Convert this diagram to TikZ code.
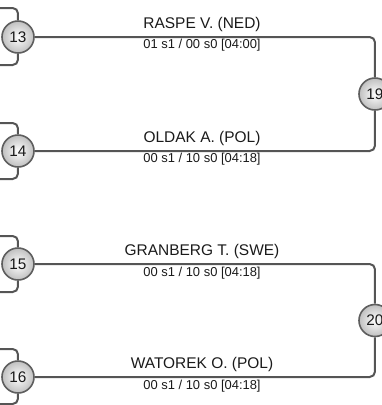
\documentclass[tikz,border=0pt]{standalone}
\usepackage{fontspec}
\setmainfont{Liberation Sans}
\definecolor{linec}{HTML}{555555}
\definecolor{circb}{HTML}{5E5E5E}
\definecolor{txt}{HTML}{1A1A1A}
\begin{document}
\begin{tikzpicture}[x=0.75pt,y=-0.75pt,
  conn/.style={draw=linec,line width=1.5pt,rounded corners=4pt},
  seed/.style={circle,draw=circb,line width=1.2pt,minimum size=24pt,inner sep=0pt,
    shading=radial,inner color=white,outer color=black!25,
    font=\fontsize{11.5pt}{13pt}\selectfont,text=txt},
  pname/.style={anchor=base,font=\fontsize{11.6pt}{13pt}\selectfont,text=txt,inner sep=0pt},
  pscore/.style={anchor=base,font=\fontsize{9.7pt}{11pt}\selectfont,text=txt,inner sep=0pt}]
\useasboundingbox (0,0) rectangle (382,405);
% left brackets free ends
\coordinate (b13t) at (0,8);   \coordinate (b13b) at (0,65);
\coordinate (b14t) at (0,123); \coordinate (b14b) at (0,179);
\coordinate (b15t) at (0,236); \coordinate (b15b) at (0,292);
\coordinate (b16t) at (0,349); \coordinate (b16b) at (0,404);
\path (18,37) node[seed] (c13) {13};
\path (18,151) node[seed] (c14) {14};
\path (18,264) node[seed] (c15) {15};
\path (18,377) node[seed] (c16) {16};
\path (375,94) node[seed] (c19) {19};
\path (375,320.5) node[seed] (c20) {20};
\draw[conn] (c13.north) |- (b13t);
\draw[conn] (c13.south) |- (b13b);
\draw[conn] (c14.north) |- (b14t);
\draw[conn] (c14.south) |- (b14b);
\draw[conn] (c15.north) |- (b15t);
\draw[conn] (c15.south) |- (b15b);
\draw[conn] (c16.north) |- (b16t);
\draw[conn] (c16.south) |- (b16b);
\draw[conn] (c13.east) -| (c19.north);
\draw[conn] (c14.east) -| (c19.south);
\draw[conn] (c15.east) -| (c20.north);
\draw[conn] (c16.east) -| (c20.south);
% labels
\node[pname] (n13) at (202,28) {RASPE V. (NED)};
\node[pscore] (s13) at (202,48.5) {01 s1 / 00 s0 [04:00]};
\node[pname] (n14) at (202,142.5) {OLDAK A. (POL)};
\node[pscore] (s14) at (202,162.8) {00 s1 / 10 s0 [04:18]};
\node[pname] (n15) at (202,255.5) {GRANBERG T. (SWE)};
\node[pscore] (s15) at (202,276) {00 s1 / 10 s0 [04:18]};
\node[pname] (n16) at (202,368.5) {WATOREK O. (POL)};
\node[pscore] (s16) at (202,389.5) {00 s1 / 10 s0 [04:18]};
\end{tikzpicture}
\end{document}
